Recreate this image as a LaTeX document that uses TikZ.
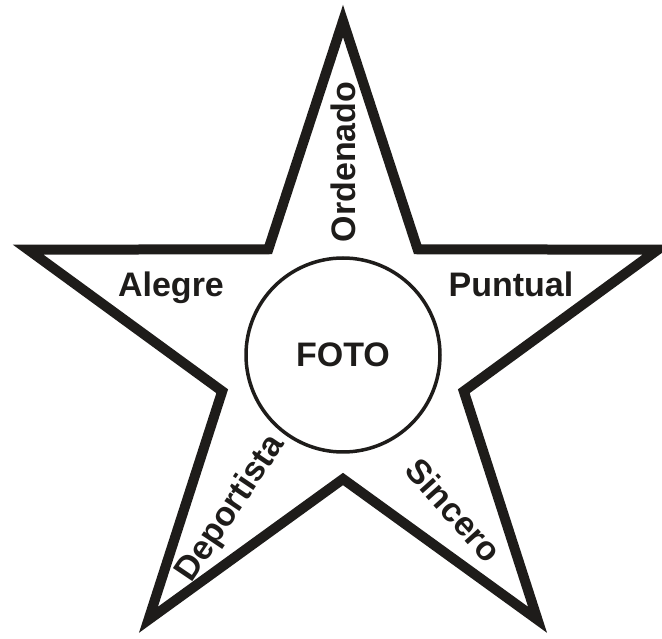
\documentclass[tikz,border=0pt]{standalone}
\usepackage{fontspec}
\setmainfont{Liberation Sans}
\definecolor{ink}{RGB}{30,28,26}
\begin{document}
\begin{tikzpicture}[x=1pt,y=1pt,line join=miter,font=\bfseries\fontsize{34}{40}\selectfont]
\tikzset{word/.style={text=ink,inner sep=0pt}}
\useasboundingbox (0,0) rectangle (662,638);
% star
\draw[ink,line width=10pt,shift={(343,286)}] (90:331)
  \foreach \a in {0,...,3}{ -- ({126+72*\a}:127) -- ({162+72*\a}:331) } -- (54:127) -- cycle;
% centre
\node[word,draw=ink,line width=3.5pt,circle,minimum size=194pt] (foto) at (343,283) {FOTO};
% words
\node[word,rotate=90] (ordenado) at (343,476) {Ordenado};
\node[word,anchor=base] (alegre) at (171,341) {Alegre};
\node[word,anchor=base] (puntual) at (511,341) {Puntual};
\node[word,rotate=56] (deportista) at (231,129) {Deportista};
\node[word,rotate=-48] (sincero) at (454,128) {Sincero};
\end{tikzpicture}
\end{document}
